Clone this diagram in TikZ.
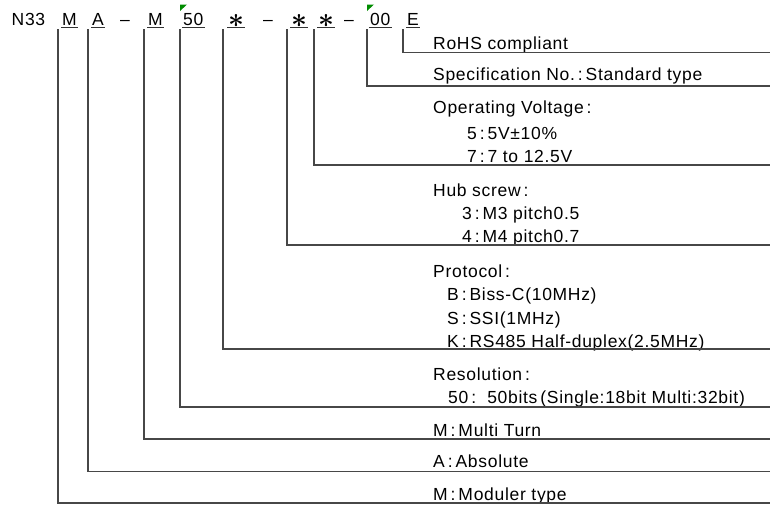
\documentclass[tikz,border=0pt]{standalone}
\usepackage{fontspec}
\usepackage{amsmath}
\setmainfont{Liberation Sans}
\usetikzlibrary{positioning}

\begin{document}
\begin{tikzpicture}[x=1pt,y=-1pt]

	\tikzset{
		code/.style={
				anchor=base west, inner sep=0pt, font=\fontsize{17.5}{20}\selectfont\addfontfeature{LetterSpace=4}
			},
		item/.style={
				anchor=base west, inner sep=0pt, font=\fontsize{17.5}{20}\selectfont\addfontfeature{LetterSpace=4}
			},
		lead/.style={
				draw=black!72, line width=1.1pt
			},
		uline/.style={
				draw=black!80, line width=0.9pt
			},
		flag/.style={
				fill=green!55!black, draw=none
			},
	}
	\useasboundingbox (0,0) rectangle (770,504);

	% order code
	\node[code](cN) at (11.5,25){N33};
	\node[code](cMod) at (62,25){M};
	\node[code](cAbs) at (92,25){A};
	\node[code](d1) at (120,25){\textendash};
	\node[code](cMul) at (148,25){M};
	\node[code](cRes) at (183,25){50};
	\node[code](cPro) at (228,25){\raisebox{-2pt}{\scalebox{1.6}{$\boldsymbol{\ast}$}}\hspace{3pt}};
	\node[code](d2) at (263,25){\textendash};
	\node[code](cHub) at (291,25){\raisebox{-2pt}{\scalebox{1.6}{$\boldsymbol{\ast}$}}\hspace{3pt}};
	\node[code](cVol) at (318,25){\raisebox{-2pt}{\scalebox{1.6}{$\boldsymbol{\ast}$}}\hspace{3pt}};
	\node[code](d3) at (344,25){\textendash};
	\node[code](cSpe) at (370,25){00};
	\node[code](cRoh) at (407,25){E};

	\foreach \c in {cMod,cAbs,cMul,cRes,cPro,cHub,cVol,cSpe,cRoh}
		\draw[uline] ([shift={(-1,2)}]\c.base west) -- ([shift={(1,2)}]\c.base east);

	\fill[flag] (180,4.5) -- (187,4.5) -- (180,11) -- cycle;
	\fill[flag] (367,4.5) -- (374,4.5) -- (367,11) -- cycle;

	% legend
	\node[item](tRoh) at (433,49.3){RoHS compliant};
	\node[item](tSpe) at (433,80){Specification No.\,:\,Standard type};
	\node[item](tVol) at (433,113){Operating Voltage\,:};
	\node[item](tVol5) at (467,139){5\,:\,5V±10\%};
	\node[item](tVol7) at (467,162){7\,:\,7 to 12.5V};
	\node[item](tHub) at (433,196){Hub screw\,:};
	\node[item](tHub3) at (462,219){3\,:\,M3 pitch0.5};
	\node[item](tHub4) at (462,242){4\,:\,M4 pitch0.7};
	\node[item](tPro) at (433,277){Protocol\,:};
	\node[item](tProB) at (447,300){B\,:\,Biss-C(10MHz)};
	\node[item](tProS) at (447,324){S\,:\,SSI(1MHz)};
	\node[item](tProK) at (447,347){K\,:\,RS485 Half-duplex(2.5MHz)};
	\node[item](tRes) at (433,380){Resolution\,:};
	\node[item](tRes50) at (448,403){50\,:\ \ 50bits\,(Single:18bit Multi:32bit)};
	\node[item](tMul) at (433,436){M\,:\,Multi Turn};
	\node[item](tAbs) at (433,467.3){A\,:\,Absolute};
	\node[item](tMod) at (433,500){M\,:\,Moduler type};

	\coordinate (eRoh) at (770,52.7);
	\coordinate (eSpe) at (770,86);
	\coordinate (eVol) at (770,165);
	\coordinate (eHub) at (770,245);
	\coordinate (ePro) at (770,349);
	\coordinate (eRes) at (770,407);
	\coordinate (eMul) at (770,439);
	\coordinate (eAbs) at (770,471.5);
	\coordinate (eMod) at (770,503);

	\draw[lead] ([shift={(-4,4)}]cRoh.base west) |- (eRoh);
	\draw[lead] ([shift={(-3,4)}]cSpe.base west) |- (eSpe);
	\draw[lead] ([shift={(-4,4)}]cVol.base west) |- (eVol);
	\draw[lead] ([shift={(-4,4)}]cHub.base west) |- (eHub);
	\draw[lead] ([shift={(-5,4)}]cPro.base west) |- (ePro);
	\draw[lead] ([shift={(-3,4)}]cRes.base west) |- (eRes);
	\draw[lead] ([shift={(-4,4)}]cMul.base west) |- (eMul);
	\draw[lead] ([shift={(-4,4)}]cAbs.base west) |- (eAbs);
	\draw[lead] ([shift={(-4,4)}]cMod.base west) |- (eMod);

\end{tikzpicture}
\end{document}
